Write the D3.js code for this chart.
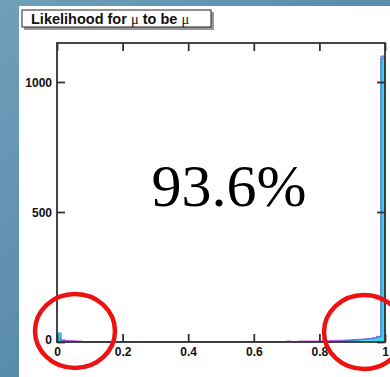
<!DOCTYPE html>
<html><head><meta charset="utf-8">
<script src="https://cdn.jsdelivr.net/npm/d3@7"></script>
<style>body{margin:0;overflow:hidden}svg{display:block}</style>
</head><body>
<script>
const xTicks = [0, 0.2, 0.4, 0.6, 0.8, 1];
const xTickLabels = ["0", "0.2", "0.4", "0.6", "0.8", "1"];
const yTicks = [0, 500, 1000];
const binWidth = 0.0125;
// cyan filled histogram (counts per bin, 80 bins)
const cyanCounts = [35, 6, 3, 2, 2, 1, 1, 1, 1, 1, 1, 1, 1, 1, 1, 1, 1, 1, 1, 1,
  1, 1, 1, 1, 1, 1, 1, 1, 1, 1, 1, 1, 1, 1, 1, 1, 1, 1, 1, 1,
  1, 1, 1, 1, 1, 1, 1, 1, 1, 1, 1, 1, 1, 1, 1, 1, 1, 1, 1, 1,
  1, 1, 1, 2, 2, 2, 2, 3, 3, 4, 5, 6, 8, 8, 10, 12, 14, 16, 22, 1100];
// magenta outline histogram
const magCounts = [12, 8, 5, 5, 4, 3, 2, 2, 2, 2, 2, 2, 1, 2, 1, 2, 1, 1, 2, 1,
  1, 2, 1, 1, 2, 1, 1, 2, 1, 1, 2, 1, 1, 1, 2, 1, 1, 1, 1, 2,
  1, 1, 2, 1, 1, 2, 2, 1, 2, 1, 2, 2, 1, 2, 2, 2, 3, 2, 2, 3,
  3, 3, 3, 3, 4, 4, 5, 5, 6, 6, 7, 8, 9, 10, 10, 12, 13, 15, 20, 1090];
const bigText = "93.6%";
const titleText = ["Likelihood for ", "\u03bc", " to be ", "\u03bc"];

const W = 390, H = 377;
const svg = d3.select("body").append("svg").attr("width", W).attr("height", H);
const defs = svg.append("defs");
const g1 = defs.append("linearGradient").attr("id","bg").attr("x1","0").attr("y1","0").attr("x2","1").attr("y2","1");
g1.append("stop").attr("offset","0").attr("stop-color","#6f9fba");
g1.append("stop").attr("offset","0.5").attr("stop-color","#5a8cab");
g1.append("stop").attr("offset","1").attr("stop-color","#4e7f9e");
svg.append("rect").attr("width",W).attr("height",H).attr("fill","url(#bg)");
svg.append("rect").attr("x",19).attr("y",6).attr("width",W-19).attr("height",H-6).attr("fill","#ffffff");

const L = 57, R = 385, T = 43, B = 342;
const x = d3.scaleLinear().domain([0,1]).range([L,R]);
const y = d3.scaleLinear().domain([0,1150]).range([B,T]);

const plot = svg.append("g");
const cyanBins = cyanCounts.map((c,i)=>({x0:i*binWidth, x1:(i+1)*binWidth, c}));
plot.selectAll("rect.cy").data(cyanBins).join("rect").attr("class","cy")
  .attr("x",d=>x(d.x0)).attr("width",d=>x(d.x1)-x(d.x0))
  .attr("y",d=>y(d.c)).attr("height",d=>B-y(d.c))
  .attr("fill","#22e0f0");
function stepPath(counts){
  let p = d3.path();
  p.moveTo(x(0), y(0));
  counts.forEach((c,i)=>{ p.lineTo(x(i*binWidth), y(c)); p.lineTo(x((i+1)*binWidth), y(c)); });
  p.lineTo(x(1), y(0));
  return p.toString();
}
plot.append("path").attr("d",stepPath(magCounts)).attr("fill","none").attr("stroke","#d040e0").attr("stroke-width",1.2).attr("opacity",0.8);
plot.append("path").attr("d",stepPath(cyanCounts)).attr("fill","none").attr("stroke","#3a6fd0").attr("stroke-width",0.8);

// frame
const axCol = "#333";
svg.append("rect").attr("x",L).attr("y",T).attr("width",R-L).attr("height",B-T)
  .attr("fill","none").attr("stroke",axCol).attr("stroke-width",1.8);

// ticks inside
const tl = 8;
const axB = svg.append("g").attr("transform",`translate(0,${B})`)
  .call(d3.axisBottom(x).tickValues(xTicks).tickFormat((d,i)=>xTickLabels[i]).tickSizeInner(-tl).tickSizeOuter(0).tickPadding(5));
const axT = svg.append("g").attr("transform",`translate(0,${T})`)
  .call(d3.axisTop(x).tickValues(xTicks).tickFormat("").tickSizeInner(-tl).tickSizeOuter(0));
const axL = svg.append("g").attr("transform",`translate(${L},0)`)
  .call(d3.axisLeft(y).tickValues(yTicks).tickFormat(d3.format("d")).tickSizeInner(-tl).tickSizeOuter(0).tickPadding(5));
const axR = svg.append("g").attr("transform",`translate(${R},0)`)
  .call(d3.axisRight(y).tickValues(yTicks).tickFormat("").tickSizeInner(-tl).tickSizeOuter(0));
[axB,axT,axL,axR].forEach(a=>{
  a.select(".domain").remove();
  a.selectAll(".tick line").attr("stroke",axCol).attr("stroke-width",1.8);
  a.selectAll("text").attr("fill","#111").style("font-family","Liberation Sans, Arial, sans-serif")
    .style("font-size","12px").style("font-weight","bold");
});
axL.selectAll(".tick text").attr("dy","0.35em");
axL.selectAll(".tick").filter(d=>d===0).select("text").attr("dy","0.1em");
axB.selectAll(".tick text").attr("dy","0.71em");

// title box
svg.append("rect").attr("x",24).attr("y",12).attr("width",190).attr("height",18).attr("fill","#999");
svg.append("rect").attr("x",22).attr("y",10).attr("width",189).attr("height",17).attr("fill","#fff").attr("stroke","#222").attr("stroke-width",1);
const tt = svg.append("text").attr("x",31).attr("y",23.5).attr("fill","#111")
  .style("font-family","Liberation Sans, Arial, sans-serif").style("font-size","14.5px").style("font-weight","bold");
titleText.forEach(s=>{
  const ts = tt.append("tspan").text(s);
  if (s === "\u03bc") ts.style("font-family","Liberation Serif, serif").style("font-weight","normal");
});

// big text
svg.append("text").attr("x",229).attr("y",206).attr("text-anchor","middle")
  .style("font-family","Liberation Serif, Times New Roman, serif").style("font-size","60px").attr("fill","#000").text(bigText);

// red circles
svg.append("ellipse").attr("cx",75).attr("cy",331).attr("rx",40).attr("ry",37)
  .attr("fill","none").attr("stroke","#ee1111").attr("stroke-width",4.5);
svg.append("ellipse").attr("cx",364).attr("cy",332).attr("rx",40).attr("ry",37)
  .attr("fill","none").attr("stroke","#ee1111").attr("stroke-width",4.5);
</script>
</body></html>
